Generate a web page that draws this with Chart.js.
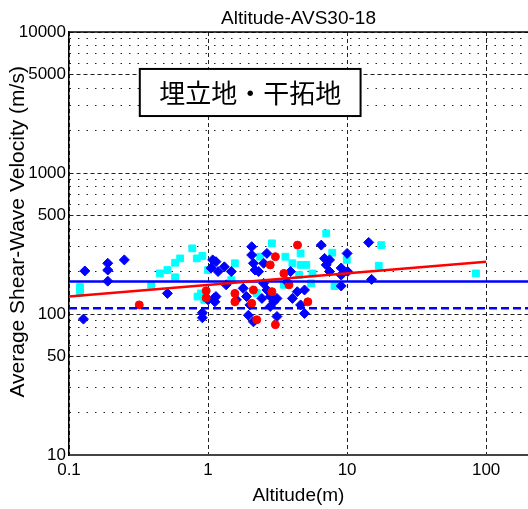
<!DOCTYPE html>
<html>
<head>
<meta charset="utf-8">
<script src="https://cdn.jsdelivr.net/npm/chart.js@4/dist/chart.umd.min.js"></script>
<style>
  html, body { margin: 0; padding: 0; background: #fff; }
  canvas { display: block; }
</style>
</head>
<body>
<canvas id="chart" width="528" height="509"></canvas>
<script>
// Axis ticks
const xTicks = [0.1, 1, 10, 100];
const xLabels = ["0.1", "1", "10", "100"];
const yTicks = [10, 20, 30, 40, 50, 60, 70, 80, 90, 100, 200, 300, 400, 500, 600, 700, 800, 900,
  1000, 2000, 3000, 4000, 5000, 6000, 7000, 8000, 9000, 10000];
const yLabels = [10, 50, 100, 500, 1000, 5000, 10000];

// Blue diamonds (altitude m, AVS30 m/s)
const blueX = [0.13, 0.19, 0.19, 0.19, 0.25, 0.51, 0.127, 0.91, 1.08, 1.05, 1.18, 1.31, 1.11, 1.0, 1.14, 1.47,
  1.14, 0.91, 2.06, 2.06, 2.12, 2.18, 1.79, 1.89, 2.0, 1.95, 2.12, 2.65, 2.51, 2.31, 3.92, 6.52, 6.88, 7.08,
  7.48, 2.51, 2.65, 2.8, 2.44, 2.97, 2.8, 3.13, 3.71, 4.38, 4.94, 4.63, 4.94, 3.13, 4.04, 14.3, 10.0, 9.07,
  10.1, 9.07, 9.07, 15.0, 7.48, 1.12, 1.35, 1.6];
const blueY = [202, 229, 205, 171, 242, 140, 92, 102, 242, 212, 200, 216, 130, 126, 235, 200,
  133, 94, 300, 262, 229, 205, 152, 133, 116, 98, 88, 269, 229, 200, 200, 308, 248, 223,
  200, 165, 148, 133, 129, 122, 113, 129, 169, 144, 148, 116, 101, 96, 129, 322, 269, 212,
  200, 189, 158, 176, 242, 122, 161, 126];

// Cyan squares
const cyanX = [0.12, 0.12, 0.39, 0.45, 0.51, 0.58, 0.63, 0.77, 0.83, 0.91, 0.58, 0.89, 0.94, 1.0, 1.56, 1.47,
  0.84, 2.24, 2.37, 3.6, 4.63, 4.04, 4.63, 5.09, 4.52, 7.08, 2.88, 3.51, 5.52, 17.6, 7.82, 9.95, 16.9, 84.5,
  8.12, 5.64];
const cyanY = [155, 141, 161, 194, 205, 231, 248, 292, 248, 258, 182, 140, 126, 205, 229, 174,
  133, 141, 255, 255, 269, 229, 223, 223, 189, 373, 317, 161, 165, 308, 272, 242, 220, 194,
  158, 194];

// Red circles
const redX = [0.32, 0.97, 0.97, 1.56, 1.56, 2.12, 2.06, 2.24, 4.4, 3.05, 2.8, 3.51, 3.82, 2.88, 5.22, 3.05];
const redY = [116, 146, 130, 140, 122, 148, 119, 91, 308, 255, 223, 194, 161, 144, 122, 84];

// Reference lines
const fitX = [0.1, 100];
const fitY = [133, 235];
const meanX = [0.1, 200];
const meanY = [170, 170];
const lowY = [110, 110];

const boxText = "埋立地・干拓地";
const boxX = [0.323, 12.5];
const boxY = [2535, 5470];

function pts(xs, ys) {
  return xs.map((x, i) => ({ x: x, y: ys[i] }));
}

const frame = {
  id: "frame",
  afterDatasetsDraw(chart) {
    const { ctx, chartArea, scales } = chart;
    // top border
    ctx.save();
    ctx.strokeStyle = "#000";
    ctx.lineWidth = 1.5;
    ctx.setLineDash([]);
    ctx.beginPath();
    ctx.moveTo(chartArea.left, chartArea.top);
    ctx.lineTo(chartArea.right, chartArea.top);
    ctx.stroke();

    // label box
    const x0 = scales.x.getPixelForValue(boxX[0]);
    const x1 = scales.x.getPixelForValue(boxX[1]);
    const y0 = scales.y.getPixelForValue(boxY[1]);
    const y1 = scales.y.getPixelForValue(boxY[0]);
    ctx.fillStyle = "#fff";
    ctx.fillRect(x0, y0, x1 - x0, y1 - y0);
    ctx.lineWidth = 2;
    ctx.strokeRect(x0, y0, x1 - x0, y1 - y0);
    ctx.fillStyle = "#000";
    ctx.font = '26px "Noto Sans CJK JP"';
    ctx.textAlign = "center";
    ctx.textBaseline = "middle";
    ctx.fillText(boxText, (x0 + x1) / 2, (y0 + y1) / 2 + 1);
    ctx.restore();
  },
};

const gridDash = (labels) => (c) => {
  if (c.type !== "tick") return [];
  return labels.includes(c.tick.value) ? [4, 3] : [1.5, 7];
};

new Chart(document.getElementById("chart"), {
  type: "scatter",
  data: {
    datasets: [
      {
        type: "line",
        data: pts(fitX, fitY),
        borderColor: "#ff0000",
        borderWidth: 2.5,
        pointRadius: 0,
        fill: false,
        order: 0,
      },
      {
        type: "line",
        data: pts(meanX, meanY),
        borderColor: "#0000ff",
        borderWidth: 2.5,
        pointRadius: 0,
        fill: false,
        order: 1,
      },
      {
        type: "line",
        data: pts(meanX, lowY),
        borderColor: "#0000ff",
        borderWidth: 2.5,
        borderDash: [8, 4],
        pointRadius: 0,
        fill: false,
        order: 2,
      },
      {
        data: pts(redX, redY),
        pointStyle: "circle",
        pointRadius: 4,
        backgroundColor: "#ff0000",
        borderColor: "#ff0000",
        borderWidth: 1,
        order: 3,
      },
      {
        data: pts(blueX, blueY),
        pointStyle: "rectRot",
        pointRadius: 5,
        backgroundColor: "#0000ff",
        borderColor: "#0000ff",
        borderWidth: 1,
        order: 4,
      },
      {
        data: pts(cyanX, cyanY),
        pointStyle: "rect",
        pointRadius: 4.8,
        backgroundColor: "#00ffff",
        borderColor: "#00ffff",
        borderWidth: 1,
        order: 5,
      },
    ],
  },
  options: {
    responsive: false,
    animation: false,
    devicePixelRatio: 1,
    layout: { padding: 0, autoPadding: false },
    plugins: {
      legend: { display: false },
      tooltip: { enabled: false },
      title: {
        display: true,
        fullSize: false,
        text: "Altitude-AVS30-18",
        color: "#000",
        font: { family: "Liberation Sans", size: 19, weight: "normal" },
        padding: { top: 7, bottom: 2.2 },
      },
    },
    scales: {
      x: {
        type: "logarithmic",
        min: 0.1,
        max: 200,
        afterBuildTicks: (s) => { s.ticks = xTicks.map((v) => ({ value: v })); },
        afterFit: (s) => {
          s.height = 54;
          s.paddingRight = 0;
        },
        ticks: {
          autoSkip: false,
          maxRotation: 0,
          padding: 5,
          color: "#000",
          font: { family: "Liberation Sans", size: 17 },
          callback: (v) => {
            const i = xTicks.indexOf(v);
            return i >= 0 ? xLabels[i] : "";
          },
        },
        grid: { color: "#222", lineWidth: 1, drawTicks: false },
        border: { display: true, color: "#444", width: 2, dash: gridDash(xTicks) },
        title: {
          display: true,
          text: "Altitude(m)",
          color: "#000",
          font: { family: "Liberation Sans", size: 19 },
          padding: { top: 0, bottom: 2 },
        },
      },
      y: {
        type: "logarithmic",
        min: 10,
        max: 10000,
        afterBuildTicks: (s) => { s.ticks = yTicks.map((v) => ({ value: v })); },
        afterFit: (s) => { s.width = 69; },
        ticks: {
          autoSkip: false,
          padding: 3,
          color: "#000",
          font: { family: "Liberation Sans", size: 17 },
          callback: (v) => (yLabels.includes(v) ? String(v) : ""),
        },
        grid: { color: "#222", lineWidth: 1, drawTicks: false },
        border: { display: true, color: "#000", width: 1.5, dash: gridDash(yLabels) },
        title: {
          display: true,
          text: "    Average Shear-Wave Velocity (m/s)",
          color: "#000",
          font: { family: "Liberation Sans", size: 21 },
          padding: { top: 6, bottom: 0 },
        },
      },
    },
  },
  plugins: [frame],
});
</script>
</body>
</html>
